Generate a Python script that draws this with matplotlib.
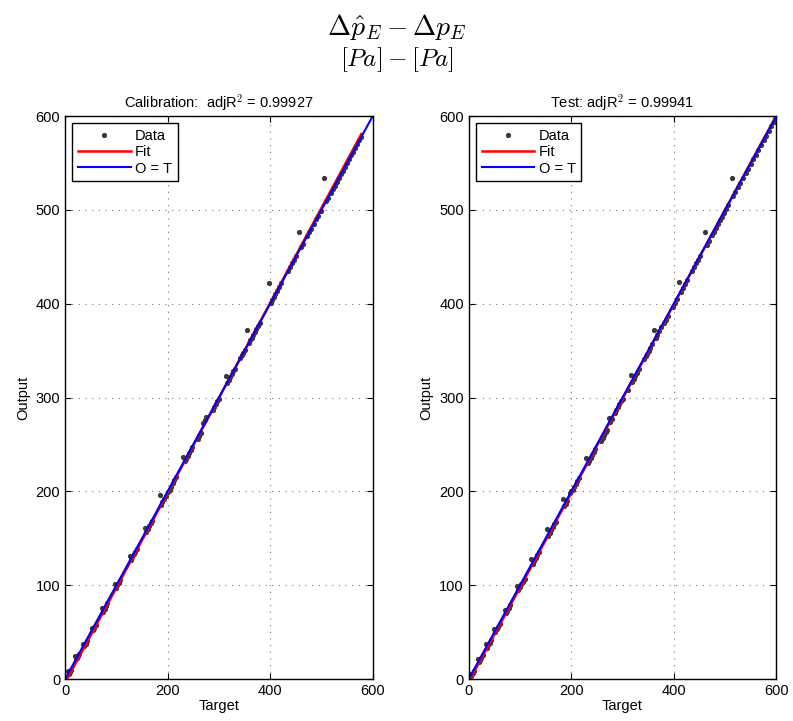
import numpy as np
import matplotlib
matplotlib.use("Agg")
import matplotlib.pyplot as plt

plt.rcParams['font.family'] = ['Liberation Sans', 'DejaVu Sans']
plt.rcParams['mathtext.fontset'] = 'cm'

# calibration set (target, output)
cal_t = [5, 7, 9, 11,
         20, 22, 24, 26, 28,
         35, 37, 40, 43,
         52, 54, 57, 60,
         72, 74, 77, 80, 82,
         97, 99, 102, 105, 108,
         126, 128, 131, 134, 137, 140,
         156, 158, 161, 164, 167, 170,
         186, 188, 190, 193, 196,
         201, 204, 207, 210, 213, 216,
         230, 233, 236, 239, 242, 245, 248,
         259, 262, 265, 269, 272, 275,
         288, 291, 294, 297, 300,
         313, 316, 319, 322, 325, 328, 331,
         342, 345, 348, 351, 355, 358, 361,
         364, 367, 370, 373, 376, 380,
         398, 401, 404, 407, 410, 414, 418, 422,
         435, 439, 443, 447, 451, 456, 460, 464,
         472, 476, 480, 485, 490, 494, 499, 505, 509, 513,
         518, 522, 526, 530, 534, 538, 542, 546, 550, 554, 558, 562, 566, 570, 574, 578]
cal_o = [9, 6, 8, 10,
         25, 21, 23, 25, 27,
         38, 35, 38, 41,
         55, 52, 55, 58,
         76, 72, 75, 78, 81,
         101, 97, 100, 103, 106,
         131, 127, 130, 133, 136, 139,
         161, 157, 160, 163, 166, 169,
         196, 186, 189, 192, 195,
         199, 202, 205, 209, 212, 215,
         237, 232, 235, 238, 241, 244, 247,
         256, 259, 262, 273, 276, 279,
         287, 290, 293, 296, 299,
         323, 316, 319, 322, 325, 328, 331,
         342, 345, 348, 351, 372, 358, 361,
         364, 367, 370, 373, 376, 380,
         422, 401, 404, 407, 410, 414, 418, 422,
         435, 439, 443, 447, 451, 477, 460, 464,
         472, 476, 480, 485, 490, 494, 499, 534, 509, 513,
         518, 522, 526, 530, 534, 538, 542, 546, 550, 554, 558, 562, 566, 570, 574, 578]

# test set (target, output)
test_t = [3, 5, 7, 9, 11,
          18, 20, 22, 25, 28,
          33, 35, 38, 41, 44,
          50, 52, 55, 58, 61,
          70, 72, 75, 78, 81,
          95, 97, 100, 103, 106, 109,
          122, 125, 128, 131, 134, 137,
          152, 155, 158, 161, 164, 167, 170,
          184, 186, 189, 192, 197,
          200, 203, 206, 209, 212, 215,
          228, 232, 235, 238, 241, 244, 247,
          258, 261, 264, 267, 270, 273, 276, 279,
          285, 288, 291, 294, 297, 300,
          310, 316, 319, 322, 325, 328, 332,
          342, 345, 348, 351, 354, 358, 362, 365,
          368, 372, 376, 380, 384, 388,
          398, 402, 406, 410, 414, 418, 422, 426,
          436, 440, 444, 448, 452, 460, 464, 468,
          474, 478, 482, 486, 490, 494, 498, 502, 506, 513, 516,
          520, 525, 530, 535, 540, 545, 550, 555, 560, 565, 570, 575, 580, 585, 590, 595, 598]
test_o = [6, 3, 5, 7, 9,
          22, 18, 20, 23, 26,
          37, 33, 36, 39, 42,
          54, 50, 53, 56, 59,
          74, 70, 73, 76, 79,
          99, 95, 98, 101, 104, 107,
          128, 123, 126, 129, 132, 135,
          160, 153, 156, 159, 162, 165, 168,
          192, 184, 187, 190, 198,
          200, 202, 205, 208, 211, 214,
          236, 230, 233, 236, 239, 242, 245,
          254, 257, 260, 263, 266, 278, 274, 277,
          284, 287, 290, 293, 296, 299,
          308, 324, 317, 320, 323, 326, 330,
          341, 344, 347, 350, 353, 357, 372, 364,
          367, 371, 375, 379, 383, 387,
          397, 401, 405, 423, 413, 417, 421, 425,
          435, 439, 443, 447, 451, 477, 463, 467,
          473, 477, 481, 485, 489, 493, 497, 501, 505, 534, 515,
          519, 524, 529, 534, 539, 544, 549, 554, 559, 564, 569, 574, 579, 584, 589, 594, 597]

# linear fit coefficients (slope, intercept)
cal_fit = (1.012, -4.0)
test_fit = (1.006, -3.0)

panels = [
    ("Calibration:  adjR$^2$ = 0.99927", cal_t, cal_o, cal_fit, [0.082, 0.058, 0.388, 0.781]),
    ("Test: adjR$^2$ = 0.99941", test_t, test_o, test_fit, [0.591, 0.058, 0.388, 0.781]),
]

fig = plt.figure(figsize=(7.93, 7.21), dpi=100)
fig.text(0.5, 0.962, r"$\Delta\hat{p}_E - \Delta p_E$", ha='center', va='center', fontsize=20)
fig.text(0.5, 0.917, r"$[Pa] - [Pa]$", ha='center', va='center', fontsize=18)

for title, t, o, fit, pos in panels:
    ax = fig.add_axes(pos)
    t = np.array(t)
    o = np.array(o)
    ax.plot(t, o, '.', color='#3a3a3a', markersize=5.5, label='Data')
    xf = np.array([t.min(), t.max()])
    ax.plot(xf, fit[0] * xf + fit[1], color='red', lw=1.8, label='Fit')
    ax.plot([0, 600], [0, 600], color='blue', lw=1.5, label='O = T')
    ax.set_xlim(0, 600)
    ax.set_ylim(0, 600)
    ax.set_xticks([0, 200, 400, 600])
    ax.set_yticks(range(0, 601, 100))
    ax.grid(True, color='#777777', linestyle=(0, (1, 5)), linewidth=0.8)
    ax.tick_params(direction='in', top=True, right=True, labelsize=10.5, length=4)
    for s in ax.spines.values():
        s.set_linewidth(1.0)
    ax.set_xlabel('Target', fontsize=10.5, labelpad=1)
    ax.set_ylabel('Output', fontsize=10.5)
    ax.set_title(title, fontsize=10.5, pad=6)
    leg = ax.legend(loc='upper left', fontsize=10.5, fancybox=False, framealpha=1,
                    edgecolor='black', handlelength=3.6, borderpad=0.4, numpoints=1,
                    labelspacing=0.15, handletextpad=0.3, borderaxespad=0.5)
    leg.get_frame().set_linewidth(1.0)

fig.savefig('out.png', dpi=100)
